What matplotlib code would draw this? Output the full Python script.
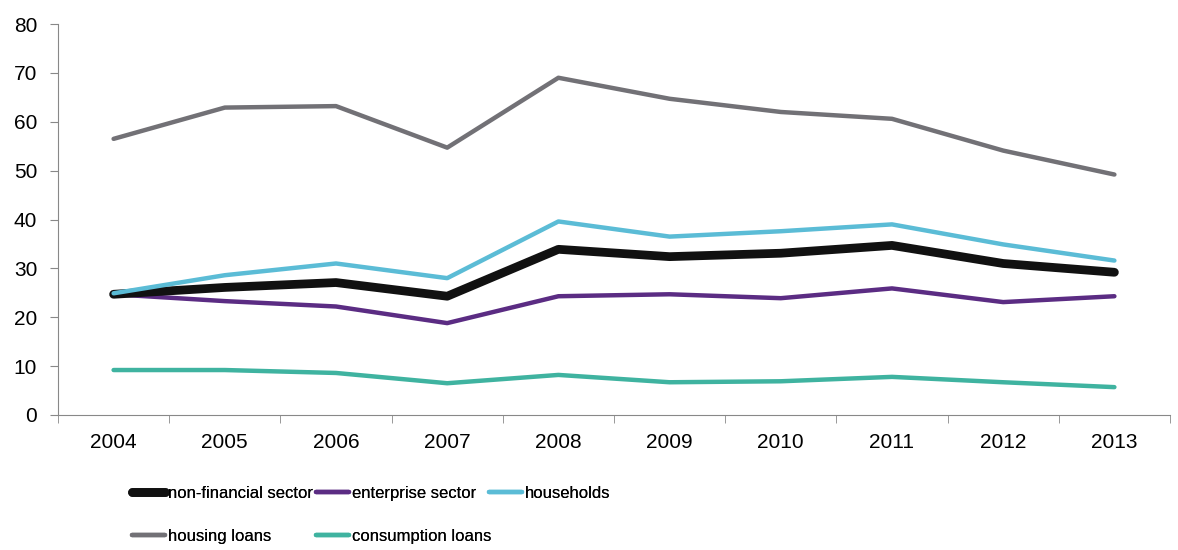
import matplotlib.pyplot as plt
import numpy as np

years = ['2004', '2005', '2006', '2007', '2008', '2009', '2010', '2011', '2012', '2013']
non_financial = [24.7, 26.1, 27.1, 24.3, 33.9, 32.4, 33.1, 34.7, 31.0, 29.2]
enterprise = [24.7, 23.3, 22.2, 18.8, 24.3, 24.7, 23.9, 25.9, 23.1, 24.3]
households = [24.9, 28.6, 31.0, 28.0, 39.6, 36.5, 37.6, 39.0, 34.9, 31.6]
housing = [56.5, 62.9, 63.2, 54.7, 69.0, 64.7, 62.0, 60.6, 54.1, 49.2]
consumption = [9.2, 9.2, 8.6, 6.5, 8.2, 6.7, 6.9, 7.8, 6.7, 5.7]

def main():
    plt.rcParams['font.family'] = ['Liberation Sans', 'DejaVu Sans']
    fig = plt.figure(figsize=(11.78, 5.5), dpi=100)
    ax = fig.add_axes([58 / 1178, 135 / 550, 1112 / 1178, 391 / 550])

    x = np.arange(len(years))
    # draw thin lines first, black one on top of purple
    ax.plot(x, housing, color='#727176', lw=3.2, solid_capstyle='round', label='housing loans')
    ax.plot(x, consumption, color='#3fb3a0', lw=3.2, solid_capstyle='round', label='consumption loans')
    ax.plot(x, enterprise, color='#5b2c83', lw=3.2, solid_capstyle='round', label='enterprise sector')
    ax.plot(x, non_financial, color='#111111', lw=6.3, solid_capstyle='round', label='non-financial sector')
    ax.plot(x, households, color='#5bbcd6', lw=3.2, solid_capstyle='round', label='households')

    ax.set_xlim(-0.5, len(years) - 0.5)
    ax.set_ylim(0, 80)
    ax.set_yticks(range(0, 81, 10))
    ax.set_xticks(x)
    ax.set_xticklabels(years)
    ax.set_xticks(np.arange(-0.5, len(years), 1), minor=True)
    ax.tick_params(axis='x', which='major', length=0, pad=13, labelsize=15)
    ax.tick_params(axis='x', which='minor', length=6, color='#888888')
    ax.tick_params(axis='y', length=6, color='#888888', labelsize=15, pad=9, direction='out')
    for s in ['top', 'right']:
        ax.spines[s].set_visible(False)
    for s in ['left', 'bottom']:
        ax.spines[s].set_color('#888888')

    handles, labels = ax.get_legend_handles_labels()
    hmap = dict(zip(labels, handles))
    # one legend per column so the columns sit where the reference has them
    columns = [(132, ['non-financial sector', 'housing loans']),
               (316, ['enterprise sector', 'consumption loans']),
               (489, ['households'])]
    for left, names in columns:
        leg = fig.legend([hmap[n] for n in names], names, loc='upper left',
                         bbox_to_anchor=(left / 1178, 1 - 486 / 550), frameon=False,
                         prop={'size': 12},
                         handlelength=2.0, handletextpad=0.15,
                         labelspacing=1.65, borderaxespad=0, borderpad=0)
        fig.add_artist(leg)

    fig.savefig('out.png', dpi=100)

if __name__ == '__main__':
    main()
